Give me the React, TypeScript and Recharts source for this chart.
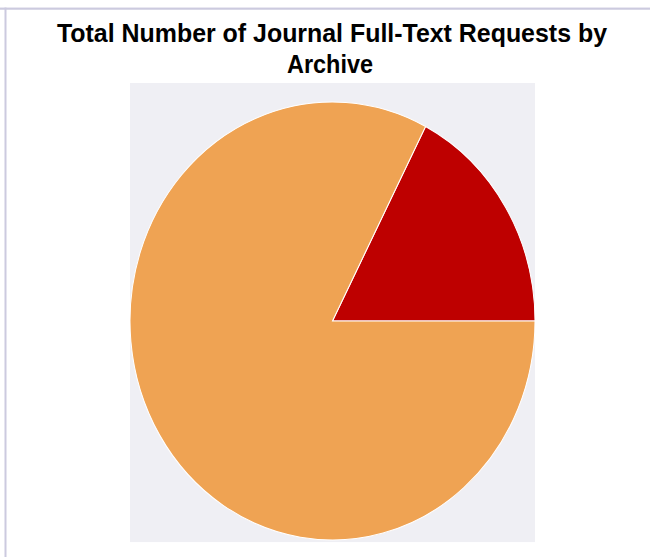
import { PieChart, Pie, Cell } from "recharts";

// slice shares (percent of requests)
const categories = ["Archive", "Non-Archive"];
const requestShare = [17.4, 82.6];
const sliceColors = ["#BE0000", "#EFA353"];
const titleLines = ["Total Number of Journal Full-Text Requests by", "Archive"];

const data = categories.map((name, i) => ({ name, value: requestShare[i] }));

// the reference is slightly stretched vertically, so draw at 515 high and scale
const W = 650;
const H = 515;
const STRETCH = 557 / H;
const titleFont = "'Liberation Sans Narrow', 'Arial Narrow', 'Liberation Sans', Arial, sans-serif";

export default function App() {
  return (
    <div style={{ position: "absolute", left: 0, top: 0, width: W, height: 557, overflow: "hidden", background: "#fff" }}>
      <div
        style={{
          position: "relative",
          width: W,
          height: H,
          transform: `scaleY(${STRETCH})`,
          transformOrigin: "top left",
        }}
      >
        <svg width={W} height={H} style={{ position: "absolute", left: 0, top: 0 }}>
          <rect x={0} y={7} width={W} height={2} fill="#CCCADF" />
          <rect x={4.5} y={7} width={2} height={H} fill="#CCCADF" />
          <rect x={130} y={76.7} width={405} height={424.5} fill="#EFEFF4" />
          <text
            x={332}
            y={38.8}
            textAnchor="middle"
            fontFamily={titleFont}
            fontWeight="bold"
            fontSize={23}
            textLength={550}
            lengthAdjust="spacingAndGlyphs"
            fill="#000"
          >
            {titleLines[0]}
          </text>
          <text
            x={330}
            y={67.5}
            textAnchor="middle"
            fontFamily={titleFont}
            fontWeight="bold"
            fontSize={23}
            textLength={86}
            lengthAdjust="spacingAndGlyphs"
            fill="#000"
          >
            {titleLines[1]}
          </text>
        </svg>
        <div style={{ position: "absolute", left: 0, top: 0 }}>
          <PieChart width={W} height={H} margin={{ top: 0, right: 0, bottom: 0, left: 0 }}>
            <Pie
              data={data}
              dataKey="value"
              nameKey="name"
              cx={332.5}
              cy={296.8}
              outerRadius={202.5}
              startAngle={0}
              endAngle={360}
              stroke="#fff"
              strokeWidth={1}
              isAnimationActive={false}
            >
              {data.map((d, i) => (
                <Cell key={d.name} fill={sliceColors[i]} />
              ))}
            </Pie>
          </PieChart>
        </div>
      </div>
    </div>
  );
}
